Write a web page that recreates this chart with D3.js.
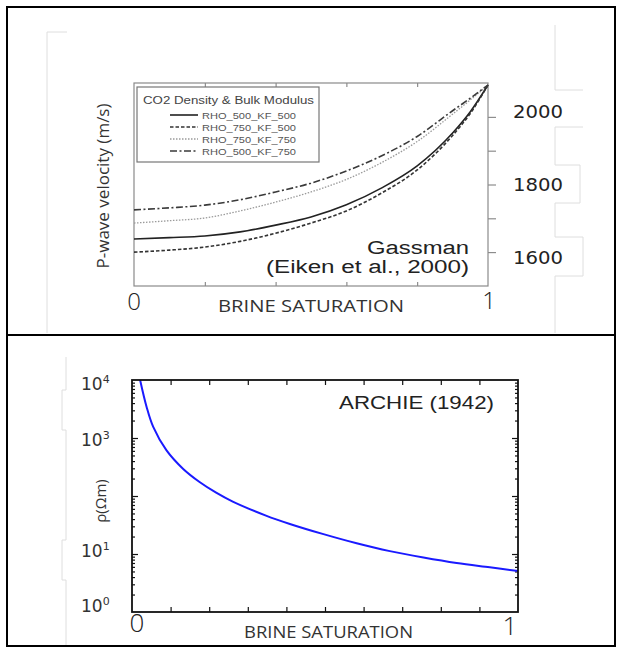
<!DOCTYPE html>
<html>
<head>
<meta charset="utf-8">
<script src="https://cdn.jsdelivr.net/npm/d3@7"></script>
<style>
  body { margin: 0; background: #fff; }
  svg { display: block; }
</style>
</head>
<body>
<svg id="chart" width="617" height="648"></svg>
<script>
// Gassmann panel: brine saturation vs P-wave velocity (m/s)
const brineSat = [0, 0.1, 0.2, 0.3, 0.4, 0.5, 0.6, 0.7, 0.8, 0.9, 0.95, 1];
const rho500kf500 = [1639, 1643, 1648, 1660, 1680, 1704, 1740, 1790, 1855, 1952, 2015, 2094];
const rho750kf500 = [1600, 1606, 1615, 1632, 1656, 1686, 1722, 1775, 1843, 1945, 2010, 2094];
const rho750kf750 = [1686, 1693, 1701, 1722, 1748, 1778, 1815, 1865, 1927, 2008, 2050, 2094];
const rho500kf750 = [1725, 1731, 1739, 1755, 1778, 1804, 1840, 1885, 1942, 2018, 2055, 2094];
const legendNames = ["RHO_500_KF_500", "RHO_750_KF_500", "RHO_750_KF_750", "RHO_500_KF_750"];
const velocityTicks = [1600, 1700, 1800, 1900, 2000];
const velocityLabels = [2000, 1800, 1600];

// Archie panel: brine saturation vs resistivity (ohm m)
const archieSat = [0.021, 0.038, 0.055, 0.089, 0.132, 0.175, 0.218, 0.261, 0.347, 0.409, 0.496, 0.582, 0.668, 0.755, 0.841, 0.927, 1];
const archieRho = [10000, 3400, 1550, 616, 295, 174, 114, 80, 46, 33, 22, 15.3, 11.2, 8.7, 7.0, 5.9, 5.1];
const rhoLabelPowers = [4, 3, 1, 0];

const svg = d3.select("#chart");

// table borders round the two pictures
svg.append("rect").attr("x", 7).attr("y", 7).attr("width", 608).attr("height", 639)
  .attr("fill", "none").attr("stroke", "#000").attr("stroke-width", 2);
svg.append("line").attr("x1", 7).attr("x2", 615).attr("y1", 335).attr("y2", 335)
  .attr("stroke", "#000").attr("stroke-width", 2);

// faint leftovers of the pasted images
const ghost = svg.append("g").attr("fill", "none").attr("stroke", "#dedede").attr("stroke-width", 1);
ghost.append("path").attr("d", "M67,32H47V333");
ghost.append("path").attr("d", "M555,25V90H583M555,127H583M555,127V165H580V203H555V237H583V276H555V333");
ghost.append("path").attr("d", "M66,357V390H62V430H66V540H62V580H66V645");

// ---------- top panel ----------
const x1 = d3.scaleLinear().domain([0, 1]).range([134, 488]);
const y1 = d3.scaleLinear().domain([1500, 2100]).range([286, 83]);
const y1Label = d3.scaleLinear().domain([1600, 2000]).range([257, 111]);

const upper = svg.append("g");

upper.append("g").attr("transform", "translate(0,286)")
  .call(d3.axisBottom(x1).tickValues([0.2, 0.4, 0.6, 0.8]).tickSize(-4).tickFormat(""))
  .call(g => g.select(".domain").remove())
  .selectAll("line").attr("stroke", "#777");
upper.append("g").attr("transform", "translate(0,83)")
  .call(d3.axisTop(x1).tickValues([0.2, 0.4, 0.6, 0.8]).tickSize(-4).tickFormat(""))
  .call(g => g.select(".domain").remove())
  .selectAll("line").attr("stroke", "#777");
upper.append("g").attr("transform", "translate(488,0)")
  .call(d3.axisRight(y1).tickValues(velocityTicks).tickSize(8).tickFormat(""))
  .call(g => g.select(".domain").remove())
  .selectAll("line").attr("stroke", "#777");

upper.append("rect").attr("x", x1(0)).attr("y", y1(2100))
  .attr("width", x1(1) - x1(0)).attr("height", y1(1500) - y1(2100))
  .attr("fill", "none").attr("stroke", "#8a8a8a").attr("stroke-width", 1.2);

const series = [
  { name: legendNames[0], values: rho500kf500, color: "#222", width: 1.6, dash: null },
  { name: legendNames[1], values: rho750kf500, color: "#333", width: 1.6, dash: "3.5,2" },
  { name: legendNames[2], values: rho750kf750, color: "#9a9a9a", width: 1.3, dash: "1.5,1.5" },
  { name: legendNames[3], values: rho500kf750, color: "#3a3a3a", width: 1.6, dash: "7,2.5,2,2.5" }
];

const line1 = d3.line()
  .x((d, i) => x1(brineSat[i]))
  .y(d => y1(d))
  .curve(d3.curveMonotoneX);

upper.selectAll(".vel").data(series).join("path")
  .attr("class", "vel")
  .attr("d", d => line1(d.values))
  .attr("fill", "none")
  .attr("stroke", d => d.color)
  .attr("stroke-width", d => d.width)
  .attr("stroke-dasharray", d => d.dash);

// legend
const leg = upper.append("g");
leg.append("rect").attr("x", 137).attr("y", 87).attr("width", 182).attr("height", 75)
  .attr("fill", "#fff").attr("stroke", "#777").attr("stroke-width", 1.2);
leg.append("text").attr("x", 143).attr("y", 103.5)
  .attr("font-family", "Liberation Sans, Arial, sans-serif").attr("font-size", 10)
  .attr("fill", "#444").attr("textLength", 171).attr("lengthAdjust", "spacingAndGlyphs")
  .text("CO2 Density & Bulk Modulus");
const legRow = d3.scaleLinear().domain([0, 3]).range([115, 151]);
leg.selectAll(".ls").data(series).join("line")
  .attr("class", "ls")
  .attr("x1", 170).attr("x2", 198)
  .attr("y1", (d, i) => legRow(i)).attr("y2", (d, i) => legRow(i))
  .attr("stroke", d => d.color).attr("stroke-width", d => d.width)
  .attr("stroke-dasharray", d => d.dash);
leg.selectAll(".lt").data(series).join("text")
  .attr("class", "lt")
  .attr("x", 202).attr("y", (d, i) => legRow(i) + 3.5)
  .attr("font-family", "Liberation Sans, Arial, sans-serif").attr("font-size", 9.5)
  .attr("fill", "#555").attr("textLength", 94).attr("lengthAdjust", "spacingAndGlyphs")
  .text(d => d.name);

// annotations and labels
const sans = "Liberation Sans, Arial, sans-serif";
const light = "Open Sans, Noto Sans, sans-serif";
upper.append("text").attr("x", 367).attr("y", 254).attr("font-family", sans).attr("font-size", 18)
  .attr("fill", "#222").attr("textLength", 102).attr("lengthAdjust", "spacingAndGlyphs").text("Gassman");
upper.append("text").attr("x", 266).attr("y", 273).attr("font-family", sans).attr("font-size", 18)
  .attr("fill", "#222").attr("textLength", 203).attr("lengthAdjust", "spacingAndGlyphs").text("(Eiken et al., 2000)");

upper.selectAll(".vl").data(velocityLabels).join("text")
  .attr("class", "vl")
  .attr("x", 513).attr("y", d => y1Label(d) + 6.5)
  .attr("font-family", "DejaVu Sans, sans-serif").attr("font-size", 17)
  .attr("fill", "#222").attr("textLength", 50).attr("lengthAdjust", "spacingAndGlyphs")
  .text(d => d);

upper.append("text").attr("x", x1(0)).attr("y", 310).attr("text-anchor", "middle")
  .attr("font-family", light).attr("font-size", 24).attr("font-weight", 300).attr("fill", "#222").text("0");
upper.append("text").attr("x", x1(1) + 1).attr("y", 309).attr("text-anchor", "middle")
  .attr("font-family", light).attr("font-size", 24).attr("font-weight", 300).attr("fill", "#222").text("1");
upper.append("text").attr("x", 218).attr("y", 312)
  .attr("font-family", light).attr("font-size", 16).attr("fill", "#333")
  .attr("textLength", 186).attr("lengthAdjust", "spacingAndGlyphs").text("BRINE SATURATION");
upper.append("text").attr("transform", "translate(109,186) rotate(-90)").attr("text-anchor", "middle")
  .attr("font-family", light).attr("font-size", 16).attr("fill", "#333")
  .attr("textLength", 165).attr("lengthAdjust", "spacingAndGlyphs").text("P-wave velocity (m/s)");

// ---------- bottom panel ----------
const x2 = d3.scaleLinear().domain([0, 1]).range([132, 518]);
const y2 = d3.scaleLog().domain([1, 10000]).range([612, 380]);
const y2Label = d3.scaleLog().domain([1, 10000]).range([605, 383]);

const lower = svg.append("g");

const majorRho = [10, 100, 1000];
const minorRho = [];
[1, 10, 100, 1000].forEach(p => d3.range(2, 10).forEach(m => minorRho.push(p * m)));

function inward(axis, tr) {
  lower.append("g").attr("transform", tr)
    .call(axis)
    .call(g => g.select(".domain").remove())
    .selectAll("line").attr("stroke", "#111").attr("stroke-width", 1.2);
}
const satTicks = d3.range(1, 10).map(i => i / 10);
inward(d3.axisBottom(x2).tickValues(satTicks).tickSize(-5).tickFormat(""), "translate(0,612)");
inward(d3.axisTop(x2).tickValues(satTicks).tickSize(-5).tickFormat(""), "translate(0,380)");
inward(d3.axisLeft(y2).tickValues(majorRho).tickSize(-6).tickFormat(""), "translate(132,0)");
inward(d3.axisLeft(y2).tickValues(minorRho).tickSize(-3).tickFormat(""), "translate(132,0)");
inward(d3.axisRight(y2).tickValues(majorRho).tickSize(-6).tickFormat(""), "translate(518,0)");
inward(d3.axisRight(y2).tickValues(minorRho).tickSize(-3).tickFormat(""), "translate(518,0)");

svg.append("clipPath").attr("id", "clip2").append("rect")
  .attr("x", 132).attr("y", 380).attr("width", 386).attr("height", 232);

const line2 = d3.line()
  .x((d, i) => x2(archieSat[i]))
  .y(d => y2(d))
  .curve(d3.curveCatmullRom.alpha(0.5));
lower.append("path").attr("d", line2(archieRho)).attr("clip-path", "url(#clip2)")
  .attr("fill", "none").attr("stroke", "#1a1aff").attr("stroke-width", 2);

lower.append("rect").attr("x", 132).attr("y", 380).attr("width", 386).attr("height", 232)
  .attr("fill", "none").attr("stroke", "#111").attr("stroke-width", 1.8);

lower.append("text").attr("x", 339).attr("y", 409).attr("font-family", sans).attr("font-size", 19)
  .attr("fill", "#222").attr("textLength", 155).attr("lengthAdjust", "spacingAndGlyphs").text("ARCHIE (1942)");

const rl = lower.selectAll(".rl").data(rhoLabelPowers).join("text")
  .attr("class", "rl")
  .attr("x", 81).attr("y", d => y2Label(Math.pow(10, d)) + 7)
  .attr("font-family", "DejaVu Sans, sans-serif").attr("font-size", 17).attr("fill", "#333");
rl.append("tspan").text("10");
rl.append("tspan").attr("dy", -7).attr("font-size", 11).text(d => d);

lower.append("text").attr("x", x2(0) + 5).attr("y", 632).attr("text-anchor", "middle")
  .attr("font-family", light).attr("font-size", 26).attr("font-weight", 300).attr("fill", "#222").text("0");
lower.append("text").attr("x", 510).attr("y", 635).attr("text-anchor", "middle")
  .attr("font-family", light).attr("font-size", 26).attr("font-weight", 300).attr("fill", "#222").text("1");
lower.append("text").attr("x", 244).attr("y", 638)
  .attr("font-family", light).attr("font-size", 16).attr("fill", "#333")
  .attr("textLength", 169).attr("lengthAdjust", "spacingAndGlyphs").text("BRINE SATURATION");
lower.append("text").attr("transform", "translate(106,501) rotate(-90)").attr("text-anchor", "middle")
  .attr("font-family", light).attr("font-size", 15).attr("fill", "#333").text("ρ(Ωm)");
</script>
</body>
</html>
